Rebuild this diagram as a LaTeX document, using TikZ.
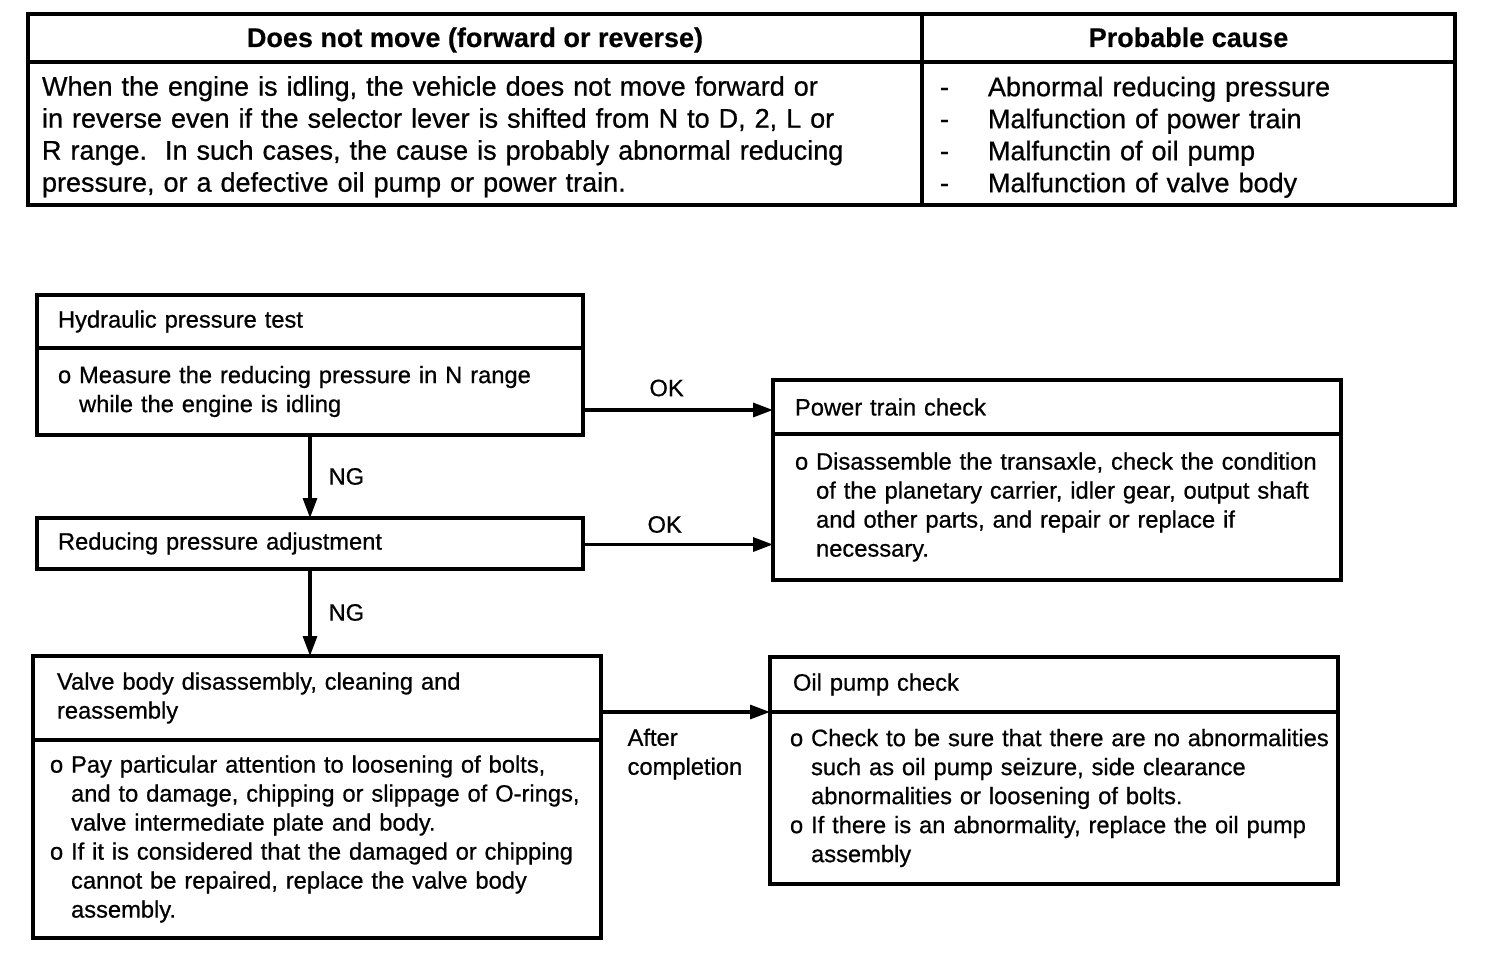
\documentclass[tikz,border=0pt]{standalone}
\usepackage{fontspec}
\setmainfont{Liberation Sans}[UprightFeatures={FakeBold=0.7},BoldFeatures={FakeBold=0.5}]
\usepackage{tikz}
\usetikzlibrary{arrows.meta}

\newcommand\tbfont{\fontsize{27}{32}\selectfont}
\newcommand\flfont{\fontsize{23.7}{29}\selectfont}
\newcommand\itm[1]{\mbox{o #1}}
\newcommand\cnt[1]{\mbox{\phantom{o }#1}}

\begin{document}
\begin{tikzpicture}[x=1pt,y=-1pt,line width=3.2pt,
  cell/.style={draw,anchor=north west,outer sep=0pt,inner ysep=0pt,font=\tbfont},
  fbox/.style={draw,anchor=north west,outer sep=0pt,inner ysep=0pt,align=left,font=\flfont},
  arr/.style={-{Triangle[length=20pt,width=14pt]}},
  lbl/.style={font=\flfont,inner sep=0pt}]
  \useasboundingbox (0,0) rectangle (1504,974);

  \node (dnm) [cell,minimum width=894pt,minimum height=48pt,text height=24pt,text depth=6pt] at (28,14)
    {\bfseries Does not move (forward or reverse)};
  \node (pcs) [cell,minimum width=533pt,minimum height=48pt,text height=24pt,text depth=6pt] at (dnm.north east)
    {\bfseries Probable cause};
  \node (dnmb) [cell,align=left,text width=866pt,inner xsep=14pt,minimum height=143pt,text height=26pt] at (dnm.south west)
    {When the engine is idling, the vehicle does not move forward or\\
     in reverse even if the selector lever is shifted from N to D, 2, L or\\
     R range.\ \ In such cases, the cause is probably abnormal reducing\\
     pressure, or a defective oil pump or power train.};
  \node (pcsb) [cell,align=left,text width=497pt,inner xsep=18pt,minimum height=143pt,text height=27pt] at (pcs.south west)
    {\makebox[48pt][l]{-}Abnormal reducing pressure\\
     \makebox[48pt][l]{-}Malfunction of power train\\
     \makebox[48pt][l]{-}Malfunctin of oil pump\\
     \makebox[48pt][l]{-}Malfunction of valve body};

  \node (hpt) [fbox,text width=504pt,inner xsep=21pt,minimum height=53pt] at (37,295)
    {Hydraulic pressure test};
  \node (hptb) [fbox,text width=504pt,inner xsep=21pt,minimum height=87pt] at (hpt.south west)
    {\itm{Measure the reducing pressure in N range}\\
     \cnt{while the engine is idling}};
  \node (ptc) [fbox,text width=524pt,inner xsep=22pt,minimum height=54pt] at (773,380)
    {Power train check};
  \node (ptcb) [fbox,text width=524pt,inner xsep=22pt,minimum height=146pt] at (ptc.south west)
    {\itm{Disassemble the transaxle, check the condition}\\
     \cnt{of the planetary carrier, idler gear, output shaft}\\
     \cnt{and other parts, and repair or replace if}\\
     \cnt{necessary.}};
  \node (rpa) [fbox,text width=504pt,inner xsep=21pt,minimum height=51pt] at (37,518)
    {Reducing pressure adjustment};
  \node (vbd) [fbox,text width=520pt,inner xsep=24pt,minimum height=84pt] at (33,656)
    {Valve body disassembly, cleaning and\\reassembly};
  \node (vbdb) [fbox,text width=534pt,inner xsep=17pt,minimum height=198pt] at (vbd.south west)
    {\itm{Pay particular attention to loosening of bolts,}\\
     \cnt{and to damage, chipping or slippage of O-rings,}\\
     \cnt{valve intermediate plate and body.}\\
     \itm{If it is considered that the damaged or chipping}\\
     \cnt{cannot be repaired, replace the valve body}\\
     \cnt{assembly.}};
  \node (opc) [fbox,text width=522pt,inner xsep=23pt,minimum height=55pt] at (770,657)
    {Oil pump check};
  \node (opcb) [fbox,text width=528pt,inner xsep=20pt,minimum height=172pt] at (opc.south west)
    {\itm{Check to be sure that there are no abnormalities}\\
     \cnt{such as oil pump seizure, side clearance}\\
     \cnt{abnormalities or loosening of bolts.}\\
     \itm{If there is an abnormality, replace the oil pump}\\
     \cnt{assembly}};

  \draw[arr] ([yshift=-3pt]hptb.east |- ptc.west) -- node (ok1) [lbl,above=12pt,pos=.44] {OK} ([yshift=-3pt]ptc.west);
  \draw[arr] ([yshift=-1pt]rpa.east) -- node (ok2) [lbl,above=10pt,pos=.43] {OK} ([yshift=-1pt]rpa.east -| ptcb.west);
  \draw[arr] (hptb.south) -- node (ng1) [lbl,right=17pt] {NG} (rpa.north);
  \draw[arr] (rpa.south) -- node (ng2) [lbl,right=17pt] {NG} (rpa.south |- vbd.north);
  \draw[arr] (vbd.east |- opc.south west) -- (opc.south west)
    node (aftr) [lbl,pos=0,anchor=north west,align=left,xshift=25pt,yshift=-15pt] {After\\completion};
\end{tikzpicture}
\end{document}
